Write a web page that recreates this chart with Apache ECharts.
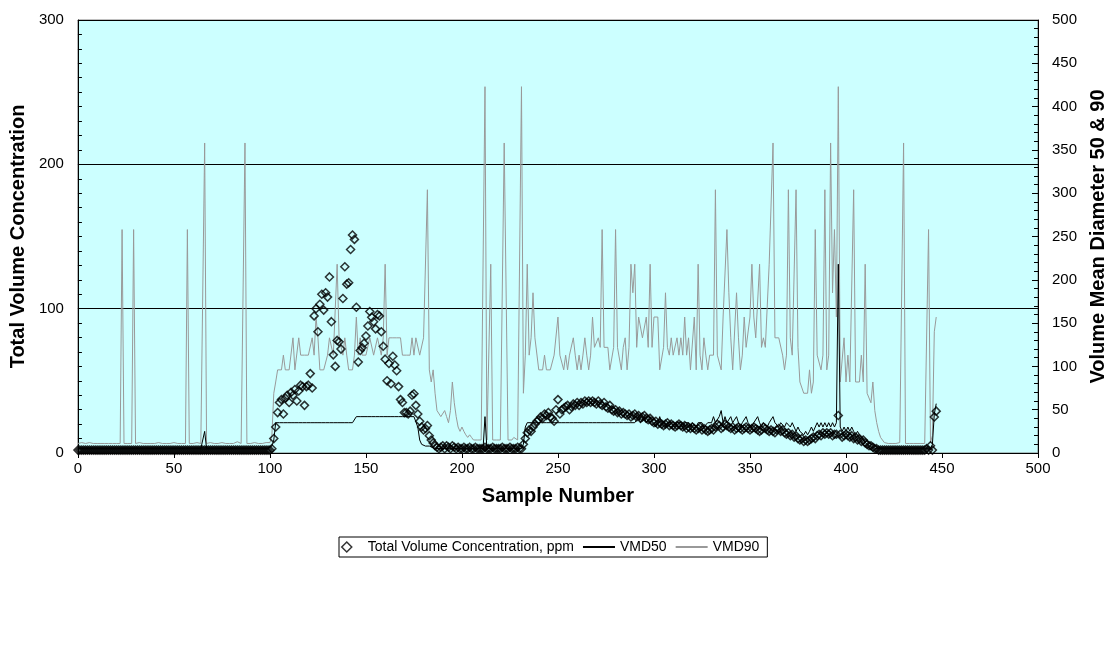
<!DOCTYPE html>
<html><head><meta charset="utf-8">
<script src="https://cdn.jsdelivr.net/npm/echarts/dist/echarts.min.js"></script>
<style>html,body{margin:0;padding:0;background:#fff}#c{width:1116px;height:656px}</style>
</head><body><div id="c"></div>
<script>
// Total Volume Concentration, ppm (left axis), sample 0..447
const tvc = [
2,2,2,2,2,2,2,2,2,2, 2,2,2,2,2,2,2,2,2,2, 2,2,2,2,2,2,2,2,2,2, 2,2,2,2,2,2,2,2,2,2,
2,2,2,2,2,2,2,2,2,2, 2,2,2,2,2,2,2,2,2,2, 2,2,2,2,2,2,2,2,2,2, 2,2,2,2,2,2,2,2,2,2,
2,2,2,2,2,2,2,2,2,2, 2,2,2,2,2,2,2,2,2,2,
2,3,10,18,28,35,37,27,38,40, 35,42,40,44,36,43,47,46,33,46,
47,55,45,95,100,84,103,110,99,111, 108,122,91,68,60,78,77,72,107,129,
117,118,141,151,148,101,63,71,73,76, 81,88,98,94,91,86,96,95,84,74,
65,50,62,48,67,61,57,46,37,35, 28,28,27,29,40,41,33,27,22,18,
16,17,19,12,9,7,5,4,3,4, 5,3,5,4,3,5,4,3,4,3,
3,4,3,3,4,3,3,4,3,3, 3,3,4,3,3,3,4,3,3,3,
3,4,3,3,3,4,3,3,3,4, 3,3,6,10,14,16,15,18,20,22,
23,25,24,27,26,28,25,24,22,30, 37,27,30,31,32,33,30,32,34,33,
35,33,35,34,36,35,36,35,36,35, 34,36,34,33,35,32,31,33,30,29,
30,28,29,27,28,27,26,27,25,26, 27,25,26,24,25,26,24,23,24,22,
21,22,20,21,20,19,20,21,19,20, 19,18,19,20,19,18,19,17,18,17,
18,17,16,17,18,16,17,16,15,16, 17,16,18,20,19,17,18,20,19,18,
17,18,16,17,18,17,16,17,18,17, 16,17,18,17,16,15,16,18,17,16,
15,16,15,14,16,17,15,16,14,13, 14,12,13,11,12,10,9,10,8,9,
8,9,10,11,10,12,13,12,14,13, 14,13,14,12,13,13,26,13,11,12,
13,12,11,12,10,11,9,10,8,9, 7,6,5,5,4,3,3,2,2,2,
2,2,2,2,2,2,2,2,2,2, 2,2,2,2,2,2,2,2,2,2,
2,2,3,2,5,2,25,29
];
// VMD50 (right axis)
const vmd50 = [
5,5,5,5,5,5,5,5,5,5, 5,5,5,5,5,5,5,5,5,5, 5,5,5,5,5,5,5,5,5,5, 5,5,5,5,5,5,5,5,5,5,
5,5,5,5,5,5,5,5,5,5, 5,5,5,5,5,5,5,5,5,5, 5,5,5,5,5,5,25,5,5,5, 5,5,5,5,5,5,5,5,5,5,
5,5,5,5,5,5,5,5,5,5, 5,5,5,5,5,5,5,5,5,5,
5,8,15,35,35,35,35,35,35,35, 35,35,35,35,35,35,35,35,35,35,
35,35,35,35,35,35,35,35,35,35, 35,35,35,35,35,35,35,35,35,35,
35,35,35,35,35,42,42,42,42,42, 42,42,42,42,42,42,42,42,42,42,
42,42,42,42,42,42,42,42,42,42, 42,42,42,42,42,42,42,30,15,10,
8,8,8,8,8,6,5,5,5,5, 5,5,5,5,5,5,5,5,5,5,
5,5,5,5,5,5,5,5,5,5, 5,5,42,5,5,5,5,5,5,5,
5,5,5,5,5,5,5,5,5,5, 5,5,10,30,35,35,35,35,35,35,
35,35,35,35,35,35,35,35,35,35, 35,35,35,35,35,35,35,35,35,35,
35,35,35,35,35,35,35,35,35,35, 35,35,35,35,35,35,35,35,35,35,
35,35,35,35,35,35,35,35,35,35, 35,35,42,35,35,42,35,35,42,35,
35,30,35,42,35,35,30,35,35,35, 35,30,35,35,35,30,35,35,35,30,
35,35,30,35,35,35,30,30,35,35, 35,42,35,35,42,49,35,42,35,35,
42,35,35,42,35,30,35,35,42,35, 35,30,35,35,42,35,30,35,35,30,
35,35,42,35,35,30,35,35,30,35, 35,30,35,30,25,30,25,25,21,25,
21,25,30,25,30,35,30,35,30,35, 30,35,30,35,30,35,218,30,25,30,
25,30,25,30,25,21,25,21,18,15, 12,10,8,8,6,5,5,5,5,5,
5,5,5,5,5,5,5,5,5,5, 5,5,5,5,5,5,5,5,5,5,
5,5,5,5,5,10,45,57
];
// VMD90 (right axis)
const vmd90 = [
11,11,12,11,11,11,12,11,11,11, 11,12,11,11,11,11,11,12,11,11,
11,11,11,258,11,11,11,11,11,258, 11,11,12,11,11,11,11,11,11,11,
11,11,12,11,11,11,11,11,11,11, 12,11,11,11,11,11,11,258,11,11,
11,11,12,11,11,11,358,11,11,12, 11,11,11,11,11,12,11,11,11,11,
11,11,11,13,11,11,11,358,11,11, 11,11,12,11,11,11,11,11,12,11,
12,20,69,82,96,96,96,113,96,96, 96,96,133,96,96,133,113,113,113,113,
113,113,133,113,157,133,96,96,96,96, 113,133,133,113,113,218,133,133,113,133,
113,96,96,96,113,157,113,133,113,113, 113,113,133,133,113,113,133,133,113,133,
218,113,133,133,133,133,133,133,133,113, 113,113,113,113,133,113,133,133,113,113,
133,133,304,96,82,96,69,49,49,42, 42,49,42,35,49,82,58,42,30,25,
30,25,21,18,21,18,15,15,15,15, 15,15,423,15,15,218,15,15,15,15,
15,15,358,358,15,15,15,18,18,15, 15,423,69,113,218,113,133,185,133,133,
96,96,96,113,96,96,96,96,113,113, 157,113,113,96,113,96,113,113,133,113,
96,113,96,113,133,113,96,113,157,122, 122,133,122,258,122,122,122,96,96,122,
258,122,122,96,122,133,96,122,218,185, 218,122,157,157,133,133,157,122,218,122,
157,157,157,96,96,122,185,122,113,133, 113,113,133,113,133,113,157,113,133,96,
96,157,96,218,113,96,133,113,96,113, 113,113,304,113,113,96,157,157,258,185,
133,96,96,185,133,96,113,157,122,122, 157,218,157,133,133,218,122,133,122,122,
218,218,358,133,133,133,133,113,96,113, 304,133,113,113,304,122,82,82,69,69,
69,96,69,82,258,113,113,96,113,304, 96,113,358,185,258,157,423,82,82,133,
82,113,82,82,304,82,82,82,113,82, 218,69,69,58,82,49,35,25,18,15,
12,11,11,12,11,11,11,11,12,11, 358,11,11,11,11,11,12,11,11,11,
11,11,12,258,12,20,140,157
];
const seriesNames = ['Total Volume Concentration, ppm', 'VMD50', 'VMD90'];
const axisNames = ['Sample Number', 'Total Volume Concentration', 'Volume Mean Diameter 50 & 90'];

const FONT = '"Liberation Sans", Arial, sans-serif';
const chart = echarts.init(document.getElementById('c'), null, {renderer: 'canvas'});
const pts = a => a.map((v, i) => [i, v]);
const lbl = {color: '#000', fontSize: 15, fontFamily: FONT};
const ttl = {color: '#000', fontSize: 20, fontWeight: 'bold', fontFamily: FONT};
const hidden = {color: 'rgba(0,0,0,0)', borderWidth: 0};
chart.setOption({
  animation: false,
  textStyle: {fontFamily: FONT},
  grid: {left: 77, right: 75, top: 20, bottom: 203, show: true, backgroundColor: '#CCFFFF', borderColor: '#808080', borderWidth: 1},
  legend: {
    left: 339, top: 537, orient: 'horizontal',
    borderColor: '#000', borderWidth: 1, padding: [3, 8, 3, 2], itemGap: 8,
    itemWidth: 32, itemHeight: 10, symbolKeepAspect: true,
    textStyle: {fontSize: 14, color: '#000', fontFamily: FONT},
    data: [
      {name: seriesNames[0], icon: 'path://M5,0L10,5L5,10L0,5Z',
       itemStyle: {color: 'rgba(0,0,0,0)', borderColor: '#000', borderWidth: 1.5}},
      {name: seriesNames[1], itemStyle: hidden},
      {name: seriesNames[2], itemStyle: hidden}
    ]
  },
  xAxis: {
    type: 'value', min: 0, max: 500, interval: 50,
    axisLine: {lineStyle: {color: '#000', width: 1}},
    axisTick: {show: true, length: 5, lineStyle: {color: '#000'}},
    axisLabel: Object.assign({margin: 8}, lbl),
    splitLine: {show: false},
    name: axisNames[0], nameLocation: 'middle', nameGap: 33, nameTextStyle: ttl
  },
  yAxis: [{
    type: 'value', min: 0, max: 300, interval: 100, position: 'left',
    axisLine: {show: true, lineStyle: {color: '#000', width: 1}},
    axisTick: {show: true, inside: true, length: 6, lineStyle: {color: '#000'}},
    minorTick: {show: true, splitNumber: 10, length: 4, lineStyle: {color: '#000'}},
    axisLabel: Object.assign({margin: 14}, lbl),
    splitLine: {show: true, lineStyle: {color: '#000', width: 1}},
    name: axisNames[1], nameLocation: 'middle', nameGap: 48, nameTextStyle: ttl
  }, {
    type: 'value', min: 0, max: 500, interval: 50, position: 'right',
    axisLine: {show: true, lineStyle: {color: '#000', width: 1}},
    axisTick: {show: true, inside: true, length: 6, lineStyle: {color: '#000'}},
    minorTick: {show: true, splitNumber: 5, length: 4, lineStyle: {color: '#000'}},
    axisLabel: Object.assign({margin: 14}, lbl),
    splitLine: {show: false},
    name: axisNames[2], nameLocation: 'middle', nameGap: 50, nameRotate: 90, nameTextStyle: ttl
  }],
  series: [{
    name: seriesNames[0], type: 'scatter', yAxisIndex: 0, symbol: 'diamond', symbolSize: 8,
    itemStyle: {color: 'rgba(0,0,0,0)', borderColor: '#000', borderWidth: 1.5},
    data: pts(tvc), z: 4
  }, {
    name: seriesNames[1], type: 'line', yAxisIndex: 1, symbol: 'none',
    lineStyle: {color: '#000', width: 1}, itemStyle: {color: '#000'},
    data: pts(vmd50), z: 3
  }, {
    name: seriesNames[2], type: 'line', yAxisIndex: 1, symbol: 'none',
    lineStyle: {color: '#999999', width: 1}, itemStyle: {color: '#999999'},
    data: pts(vmd90), z: 2
  }]
});
</script></body></html>
